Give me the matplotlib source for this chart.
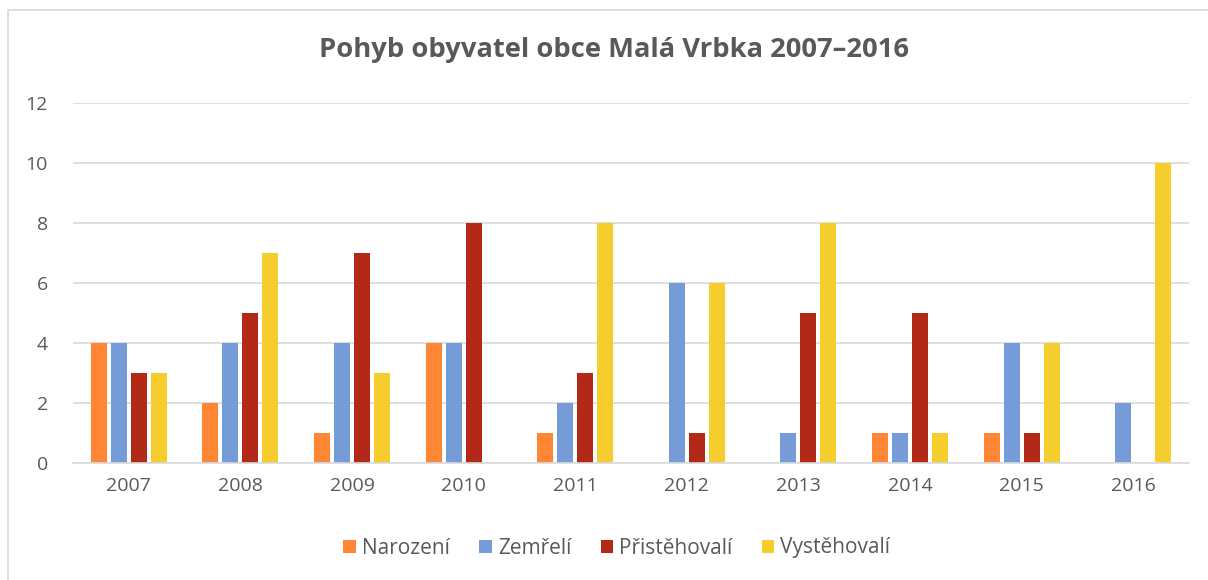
import matplotlib.pyplot as plt
import numpy as np
from matplotlib.patches import Rectangle

years = ['2007', '2008', '2009', '2010', '2011', '2012', '2013', '2014', '2015', '2016']
narozeni = [4, 2, 1, 4, 1, 0, 0, 1, 1, 0]
zemreli = [4, 4, 4, 4, 2, 6, 1, 1, 4, 2]
pristehovali = [3, 5, 7, 8, 3, 1, 5, 5, 1, 0]
vystehovali = [3, 7, 3, 0, 8, 6, 8, 1, 4, 10]

series = [
    ('Narozen\u00ed', narozeni, '#FF8635'),
    ('Zem\u0159el\u00ed', zemreli, '#759BD9'),
    ('P\u0159ist\u011bhoval\u00ed', pristehovali, '#B22A17'),
    ('Vyst\u011bhoval\u00ed', vystehovali, '#F5CD2C'),
]

plt.rcParams['font.family'] = ['Open Sans', 'DejaVu Sans']
txt = '#595959'

fig = plt.figure(figsize=(12.08, 5.8), dpi=100)
# light frame of the chart area (right and bottom edges run off the image)
fig.patches.append(Rectangle((8 / 1208, -0.1), 1.2, 1 - 10 / 580 + 0.1,
                             transform=fig.transFigure, fill=False,
                             edgecolor='#D9D9D9', lw=1.2))
ax = fig.add_axes([0.0604, 0.2017, 0.9239, 0.6207])

x = np.arange(len(years))
w = 0.143
step = 0.179
for i, (name, vals, col) in enumerate(series):
    ax.bar(x + (i - 1.5) * step, vals, width=w, color=col, label=name, zorder=2)

ax.set_xlim(-0.5, len(years) - 0.5)
ax.set_ylim(0, 12)
ax.set_yticks(range(0, 13, 2))
ax.set_xticks(x)
ax.set_xticklabels(years)
ax.grid(axis='y', color='#D9D9D9', lw=1.2, zorder=0)
for s in ['top', 'right', 'left']:
    ax.spines[s].set_visible(False)
ax.spines['bottom'].set_color('#D9D9D9')
ax.spines['bottom'].set_linewidth(1.2)
ax.tick_params(length=0, labelsize=14, colors=txt)
ax.tick_params(axis='x', pad=10)
ax.tick_params(axis='y', pad=18)

fig.text(614 / 1208, 1 - 50 / 580, 'Pohyb obyvatel obce Mal\u00e1 Vrbka 2007\u20132016',
         ha='center', va='center', fontsize=19.7, fontweight='bold', color=txt)

leg = fig.legend(loc='center', bbox_to_anchor=(617 / 1208, 1 - 548 / 580), ncol=4,
                 frameon=False, fontsize=15, handlelength=0.6, handleheight=0.6,
                 handletextpad=0.3, columnspacing=1.4)
for t in leg.get_texts():
    t.set_color(txt)

fig.savefig('out.png', dpi=100)
